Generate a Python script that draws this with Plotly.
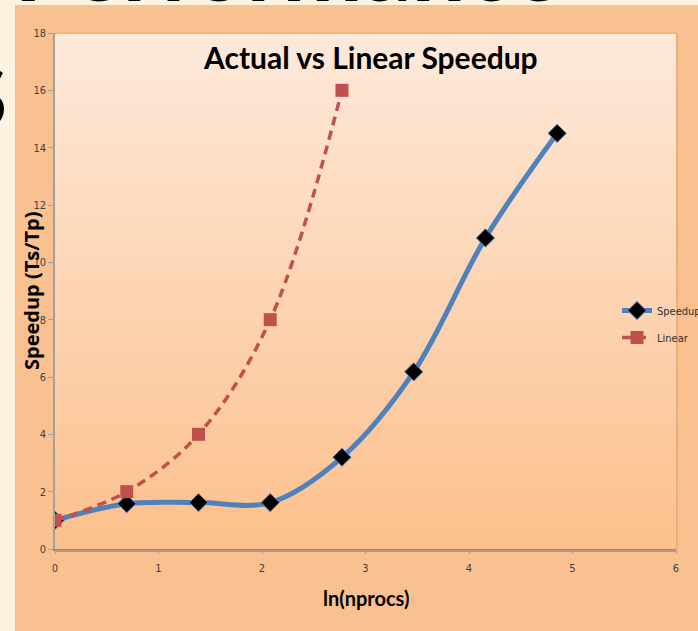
import math
import plotly.graph_objects as go

# Processor counts and measured speedups
nprocs = [1, 2, 4, 8, 16, 32, 64, 128]
speedup = [1.0, 1.58, 1.62, 1.62, 3.2, 6.18, 10.85, 14.5]
linear_procs = [1, 2, 4, 8, 16]
linear = [1, 2, 4, 8, 16]

x_speed = [math.log(n) for n in nprocs]
x_linear = [math.log(n) for n in linear_procs]

y_ticks = list(range(0, 19, 2))
x_ticks = list(range(0, 7))

W, H = 698, 631
ML, MR, MT, MB = 55, 22, 33, 82
PW, PH = W - ML - MR, H - MT - MB


def px_x(px):
    return (px - ML) / PW


def px_y(py):
    return (H - MB - py) / PH


ORANGE = "#F9C190"
CREAM = "#FBF2E0"
NARROW = "Liberation Sans Narrow, DejaVu Sans Condensed, sans-serif"

fig = go.Figure()

fig.add_trace(go.Scatter(
    x=x_speed, y=speedup, name="Speedup", mode="lines+markers", legendgroup="s",
    line=dict(color="#4F81BD", width=5, shape="spline", smoothing=1.0),
    marker=dict(symbol="diamond", size=14, color="black",
                line=dict(color="#4F81BD", width=1)),
))
fig.add_trace(go.Scatter(
    x=x_linear, y=linear, name="Linear", mode="lines+markers", legendgroup="l",
    line=dict(color="#C0504D", width=3.5, dash="9px,6px", shape="spline", smoothing=1.0),
    marker=dict(symbol="square", size=13, color="#C0504D"),
))

shapes = []
# slide background strips (left and top)
shapes.append(dict(type="rect", xref="paper", yref="paper", layer="below",
                   x0=px_x(0), x1=px_x(15), y0=px_y(H), y1=px_y(0),
                   fillcolor=CREAM, line=dict(width=0)))
shapes.append(dict(type="rect", xref="paper", yref="paper", layer="below",
                   x0=px_x(0), x1=px_x(W), y0=px_y(5), y1=px_y(0),
                   fillcolor=CREAM, line=dict(width=0)))

# vertical gradient in the plot area
top = (253, 233, 218)
bot = (252, 192, 140)
n = 80
for i in range(n):
    t = (i + 0.5) / n
    c = tuple(round(bot[k] + (top[k] - bot[k]) * t) for k in range(3))
    shapes.append(dict(type="rect", xref="paper", yref="paper", layer="below",
                       x0=0, x1=1, y0=i / n, y1=(i + 1) / n + 0.002,
                       fillcolor="rgb(%d,%d,%d)" % c, line=dict(width=0)))

# plot-area frame: orange top edge, soft shadow on the right and bottom
shapes.append(dict(type="line", xref="paper", yref="paper", layer="above",
                   x0=0, x1=1, y0=1, y1=1, line=dict(color="#F6A35E", width=1.5)))
shapes.append(dict(type="line", xref="paper", yref="paper", layer="above",
                   x0=px_x(677), x1=px_x(677), y0=0, y1=1, line=dict(color="#E8AE7E", width=2)))
shapes.append(dict(type="line", xref="paper", yref="paper", layer="above",
                   x0=0, x1=px_x(677), y0=px_y(551), y1=px_y(551), line=dict(color="#B89A84", width=2)))

annotations = [
    dict(text="<b>Actual vs Linear Speedup</b>", xref="paper", yref="paper",
         x=px_x(370), y=px_y(57), xanchor="center", yanchor="middle", showarrow=False,
         font=dict(family="Lato", size=30, color="black")),
    dict(text="<b>Speedup (Ts/Tp)</b>", xref="paper", yref="paper",
         x=px_x(31), y=px_y(291), xanchor="center", yanchor="middle", showarrow=False,
         textangle=-90, font=dict(family="Open Sans", size=20, color="black")),
    dict(text="<b>ln(nprocs)</b>", xref="paper", yref="paper",
         x=px_x(366), y=px_y(598), xanchor="center", yanchor="middle", showarrow=False,
         font=dict(family="Lato", size=20, color="black")),
    # slide heading and side letter, mostly outside the visible page
    dict(text="<b>Performance</b>", xref="paper", yref="paper",
         x=px_x(12), y=px_y(5), xanchor="left", yanchor="bottom", showarrow=False,
         yshift=-18, font=dict(family="Lato", size=96, color="black")),
    dict(text="<b>S</b>", xref="paper", yref="paper",
         x=px_x(9), y=px_y(95), xanchor="right", yanchor="middle", showarrow=False,
         font=dict(family="Lato", size=84, color="black")),
]

fig.update_layout(
    width=W, height=H,
    margin=dict(l=ML, r=MR, t=MT, b=MB, pad=0, autoexpand=False),
    paper_bgcolor=ORANGE,
    plot_bgcolor="rgba(0,0,0,0)",
    shapes=shapes,
    annotations=annotations,
    showlegend=True,
    legend=dict(x=px_x(617), y=px_y(296), xanchor="left", yanchor="top",
                bgcolor="rgba(0,0,0,0)", itemwidth=30, tracegroupgap=8,
                traceorder="grouped",
                font=dict(family=NARROW, size=11, color="#303030")),
    xaxis=dict(range=[0, 6], tickvals=x_ticks, showgrid=False, zeroline=False,
               showline=True, linecolor="#8C8C8C", linewidth=2,
               ticks="outside", ticklen=3, tickcolor="#A0A0A0",
               ticklabelstandoff=5,
               tickfont=dict(family=NARROW, size=11, color="#404040")),
    yaxis=dict(range=[0, 18], tickvals=y_ticks, showgrid=False, zeroline=False,
               showline=True, linecolor="#A0A0A0", linewidth=1.5,
               ticks="outside", ticklen=5, tickcolor="#A0A0A0",
               tickfont=dict(family=NARROW, size=11, color="#404040")),
)

fig.write_html("out.html")
